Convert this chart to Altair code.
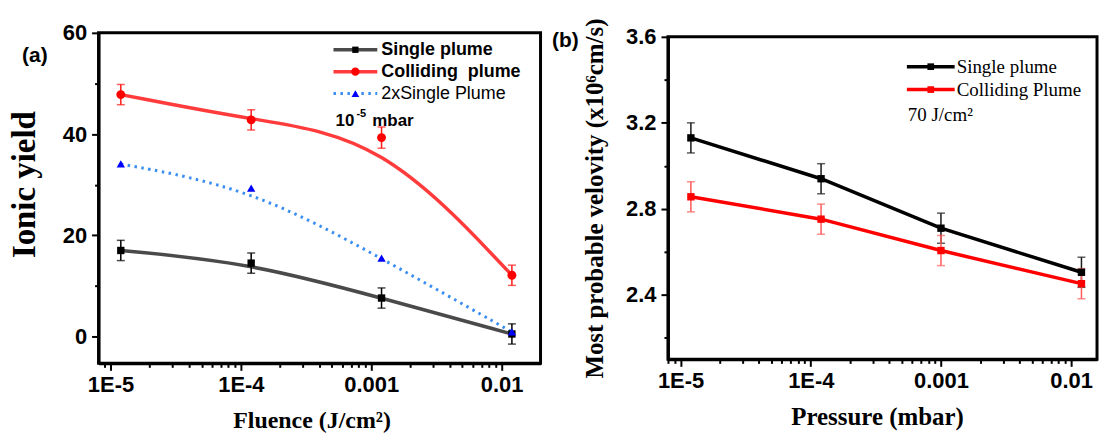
import altair as alt
import pandas as pd

# ---------------- data: panel (a) ----------------
fluence = [1.2e-5, 1.2e-4, 1.2e-3, 1.2e-2]
single_a = [17.0, 14.5, 7.6, 0.5]
single_a_err = [2.0, 2.0, 2.0, 2.0]
colliding_a = [47.8, 42.8, 39.3, 12.1]
colliding_a_err = [2.0, 2.0, 2.1, 2.0]
twice_single_a = [34.1, 29.3, 15.5, 0.9]

# ---------------- data: panel (b) ----------------
pressure = [1.2e-5, 1.2e-4, 1.0e-3, 1.2e-2]
single_b = [3.13, 2.94, 2.71, 2.505]
single_b_err = [0.07, 0.07, 0.07, 0.07]
colliding_b = [2.856, 2.752, 2.606, 2.452]
colliding_b_err = [0.07, 0.07, 0.07, 0.07]

# ---------------- tick labels ----------------
x_decades = [1e-5, 1e-4, 1e-3, 1e-2]
x_tick_labels = ["1E-5", "1E-4", "0.001", "0.01"]
ya_major = [0, 20, 40, 60]
ya_minor = [10, 30, 50]
yb_major = ["2.4", "2.8", "3.2", "3.6"]
yb_all = [2.2, 2.4, 2.6, 2.8, 3.0, 3.2, 3.4, 3.6]

legend_a = ["Single plume", "Colliding\u00a0 plume", "2xSingle Plume"]
legend_b = ["Single plume", "Colliding Plume"]


def frame(x, y, err=None):
    df = pd.DataFrame({"x": x, "y": y})
    if err is not None:
        df["lo"] = [a - b for a, b in zip(y, err)]
        df["hi"] = [a + b for a, b in zip(y, err)]
    return df


one = pd.DataFrame({"k": [0]})

# log minor tick positions (2..9 of each decade) inside the domain
def log_ticks(lo, hi):
    out = []
    for d in [1e-6, 1e-5, 1e-4, 1e-3, 1e-2]:
        for m in range(1, 10):
            v = float(f"{m * d:.10g}")
            if lo <= v <= hi:
                out.append(v)
    return out


major_log_test = "abs(log(datum.value)/LN10 - round(log(datum.value)/LN10)) < 1e-6"
x_label_expr = " : ".join(
    f"abs(datum.value/{d} - 1) < 1e-6 ? '{t}'" for d, t in zip(x_decades, x_tick_labels)
) + " : ''"

common_axis = dict(
    tickWidth=2, tickColor="black", domainColor="black", domainWidth=3,
    labelFont="Liberation Sans", labelFontWeight="bold", labelFontSize=22,
    labelColor="black", labelOverlap=False, labelFlush=False, labelBound=False,
    grid=False, titleFont="Liberation Serif", titleFontWeight="bold",
    titleColor="black", titleAlign="center",
)

# ---------------- panel (a) ----------------
xa_dom = [8.1e-6, 0.0199]
axis_xa = alt.Axis(
    values=log_ticks(*xa_dom), labelExpr=x_label_expr,
    tickSize={"condition": {"test": major_log_test, "value": 7}, "value": 4},
    labelPadding=4, title="Fluence (J/cm²)", titleFontSize=24,
    titleX=214, titleY=64, titleBaseline="alphabetic", **common_axis)
ya_test = "indexof(" + str(ya_major) + ", datum.value) >= 0"
axis_ya = alt.Axis(
    values=sorted(ya_major + ya_minor),
    labelExpr=f"{ya_test} ? datum.label : ''",
    tickSize={"condition": {"test": ya_test, "value": 7}, "value": 4},
    labelPadding=5, title="Ionic yield", titleFontSize=33,
    titleX=-64, titleY=152, titleBaseline="alphabetic", **common_axis)

sx_a = alt.Scale(type="log", domain=xa_dom, nice=False)
sy_a = alt.Scale(domain=[-5.3, 60], nice=False, zero=False)


def XA(f="x"):
    return alt.X(f"{f}:Q", scale=sx_a, axis=axis_xa)


def YA(f="y"):
    return alt.Y(f"{f}:Q", scale=sy_a, axis=axis_ya)


df_sa = frame(fluence, single_a, single_a_err)
df_ca = frame(fluence, colliding_a, colliding_a_err)
df_ta = frame(fluence, twice_single_a)

GRAY = "#4a4a4a"
LRED = "#ff3b3b"
BLUE = "#3a8ef2"

layers_a = [
    alt.Chart(df_sa).mark_line(color=GRAY, strokeWidth=3.5, interpolate="basis").encode(x=XA(), y=YA()),
    alt.Chart(df_ca).mark_line(color=LRED, strokeWidth=3.5, interpolate="basis").encode(x=XA(), y=YA()),
    alt.Chart(df_ta).mark_line(color=BLUE, strokeWidth=3, strokeDash=[2.5, 4.5], interpolate="basis").encode(x=XA(), y=YA()),
]
for df, col in [(df_sa, "black"), (df_ca, "#ff1a1a")]:
    layers_a += [
        alt.Chart(df).mark_rule(color=col, strokeWidth=1.5).encode(x=XA(), y=YA("lo"), y2="hi"),
        alt.Chart(df).mark_tick(color=col, orient="horizontal", size=8, thickness=1.5).encode(x=XA(), y=YA("lo")),
        alt.Chart(df).mark_tick(color=col, orient="horizontal", size=8, thickness=1.5).encode(x=XA(), y=YA("hi")),
    ]
layers_a += [
    alt.Chart(df_sa).mark_point(shape="square", filled=True, color="black", opacity=1, size=55).encode(x=XA(), y=YA()),
    alt.Chart(df_ca).mark_point(shape="circle", filled=True, color="#ff0000", opacity=1, size=80).encode(x=XA(), y=YA()),
    alt.Chart(df_ta).mark_point(shape="triangle-up", filled=True, color="#0000ff", opacity=1, size=70).encode(x=XA(), y=YA()),
]

# legend (a)
lg_font = dict(font="Liberation Sans", fontSize=18, align="left", baseline="middle", color="black")
rows_a = [(17, GRAY, None, "square", "black", 40, "bold"),
          (39, LRED, None, "circle", "#ff0000", 70, "bold"),
          (61, BLUE, [2.5, 4.5], "triangle-up", "#0000ff", 60, "normal")]
for (yy, lc, dash, shp, mc, ms, fw), lab in zip(rows_a, legend_a):
    rk = dict(color=lc, strokeWidth=3.5 if dash is None else 3)
    if dash is not None:
        rk["strokeDash"] = dash
    layers_a += [
        alt.Chart(one).mark_rule(**rk).encode(x=alt.value(236), x2=alt.value(280), y=alt.value(yy)),
        alt.Chart(one).mark_point(shape=shp, filled=True, color=mc, opacity=1, size=ms).encode(x=alt.value(258), y=alt.value(yy)),
        alt.Chart(one).mark_text(text=lab, fontWeight=fw, **lg_font).encode(x=alt.value(284), y=alt.value(yy)),
    ]
layers_a += [
    alt.Chart(one).mark_text(text="10", font="Liberation Sans", fontSize=17, fontWeight="bold", align="left", baseline="middle", color="black").encode(x=alt.value(238), y=alt.value(89)),
    alt.Chart(one).mark_text(text="-5", font="Liberation Sans", fontSize=11, fontWeight="bold", align="left", baseline="middle", color="black").encode(x=alt.value(259), y=alt.value(82)),
    alt.Chart(one).mark_text(text="mbar", font="Liberation Sans", fontSize=17, fontWeight="bold", align="left", baseline="middle", color="black").encode(x=alt.value(275), y=alt.value(89)),
    alt.Chart(one).mark_text(text="(a)", font="Liberation Sans", fontSize=21, fontWeight="bold", align="center", baseline="middle", color="black").encode(x=alt.value(-64), y=alt.value(23)),
    # invisible anchor fixing the top-left corner of the page
    alt.Chart(one).mark_rule(color="white", strokeWidth=1).encode(x=alt.value(-96.5), x2=alt.value(-96.5), y=alt.value(-29.5), y2=alt.value(-28)),
]

panel_a = alt.layer(*layers_a).properties(width=444, height=332)

# ---------------- panel (b) ----------------
xb_dom = [8.0e-6, 0.0158]
axis_xb = alt.Axis(
    values=log_ticks(*xb_dom), labelExpr=x_label_expr,
    tickSize={"condition": {"test": major_log_test, "value": 7}, "value": 4},
    labelPadding=4, title="Pressure (mbar)", titleFontSize=25,
    titleX=210, titleY=65, titleBaseline="alphabetic", **common_axis)
yb_test = "indexof(" + str(yb_major) + ", format(datum.value, '.1f')) >= 0"
axis_yb = alt.Axis(
    values=yb_all,
    labelExpr=f"{yb_test} ? format(datum.value, '.1f') : ''",
    tickSize={"condition": {"test": yb_test, "value": 7}, "value": 4},
    labelPadding=5, title="Most probable velovity (x10⁶cm/s)", titleFontSize=25,
    titleX=-66, titleY=162, titleBaseline="alphabetic", **common_axis)

sx_b = alt.Scale(type="log", domain=xb_dom, nice=False)
sy_b = alt.Scale(domain=[2.1, 3.6], nice=False, zero=False)


def XB(f="x"):
    return alt.X(f"{f}:Q", scale=sx_b, axis=axis_xb)


def YB(f="y"):
    return alt.Y(f"{f}:Q", scale=sy_b, axis=axis_yb)


df_sb = frame(pressure, single_b, single_b_err)
df_cb = frame(pressure, colliding_b, colliding_b_err)

layers_b = [
    alt.Chart(df_sb).mark_line(color="black", strokeWidth=3.5).encode(x=XB(), y=YB()),
    alt.Chart(df_cb).mark_line(color="#ff0000", strokeWidth=3.5).encode(x=XB(), y=YB()),
]
for df, col in [(df_sb, "#1a1a1a"), (df_cb, "#ff5a5a")]:
    layers_b += [
        alt.Chart(df).mark_rule(color=col, strokeWidth=1.5).encode(x=XB(), y=YB("lo"), y2="hi"),
        alt.Chart(df).mark_tick(color=col, orient="horizontal", size=8, thickness=1.5).encode(x=XB(), y=YB("lo")),
        alt.Chart(df).mark_tick(color=col, orient="horizontal", size=8, thickness=1.5).encode(x=XB(), y=YB("hi")),
    ]
layers_b += [
    alt.Chart(df_sb).mark_point(shape="square", filled=True, color="black", opacity=1, size=55).encode(x=XB(), y=YB()),
    alt.Chart(df_cb).mark_point(shape="square", filled=True, color="#ff0000", opacity=1, size=55).encode(x=XB(), y=YB()),
]
lg_serif = dict(font="Liberation Serif", fontSize=19, align="left", baseline="middle", color="black")
for yy, col, lab in [(30, "black", legend_b[0]), (53, "#ff0000", legend_b[1])]:
    layers_b += [
        alt.Chart(one).mark_rule(color=col, strokeWidth=3.5).encode(x=alt.value(240), x2=alt.value(288), y=alt.value(yy)),
        alt.Chart(one).mark_point(shape="square", filled=True, color=col, opacity=1, size=45).encode(x=alt.value(264), y=alt.value(yy)),
        alt.Chart(one).mark_text(text=lab, **lg_serif).encode(x=alt.value(290), y=alt.value(yy)),
    ]
layers_b += [
    alt.Chart(one).mark_text(text="70 J/cm²", **lg_serif).encode(x=alt.value(241), y=alt.value(79)),
    alt.Chart(one).mark_text(text="(b)", font="Liberation Sans", fontSize=21, fontWeight="bold", align="center", baseline="middle", color="black").encode(x=alt.value(-103), y=alt.value(4)),
]

panel_b = alt.layer(*layers_b).properties(width=431, height=324)

chart = alt.hconcat(panel_a, panel_b, spacing=128, bounds="flush", center=True).properties(
    padding=0, background="white"
).configure_view(stroke="black", strokeWidth=3)

chart.save("out.html", embed_options={"renderer": "svg", "actions": False})
